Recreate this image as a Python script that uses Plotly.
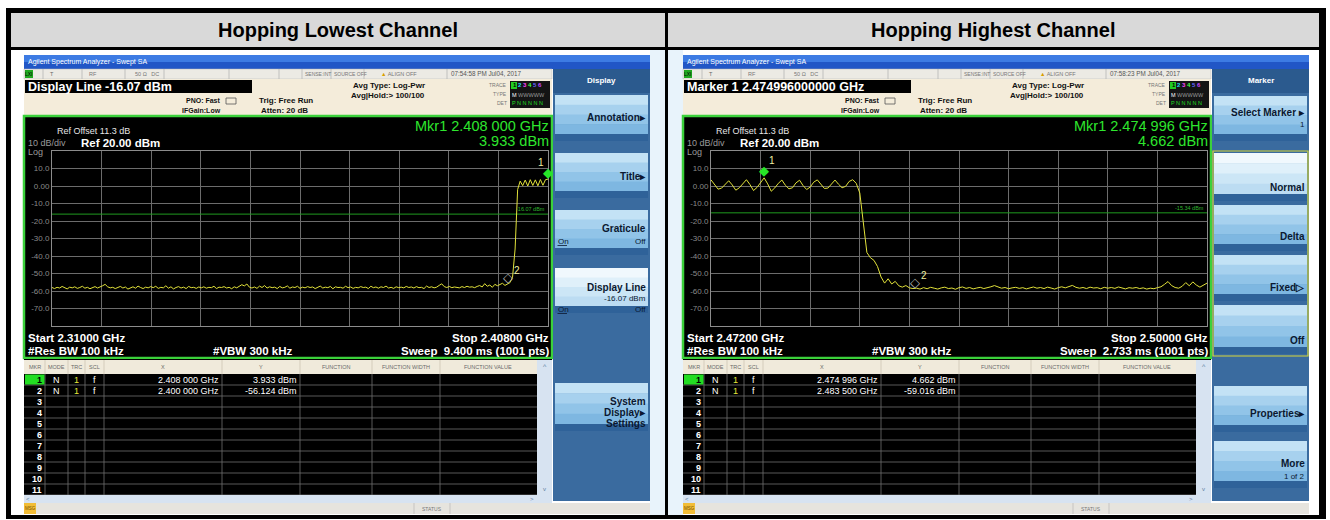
import plotly.graph_objects as go

W, H = 1330, 520
FONT = "Liberation Sans, Arial, Helvetica, sans-serif"

# ---------------- data ----------------
cell_titles = ["Hopping Lowest Channel", "Hopping Highest Channel"]
start_ghz = [2.310, 2.472]
stop_ghz = [2.408, 2.500]

# trace levels (dBm), equally spaced sweep points between start and stop
left_level_dbm = [
    -58.0, -58.6, -57.9, -58.3, -57.4, -58.1, -58.8, -57.8, -58.2, -57.6, -58.5, -58.0, -57.3, -58.4, -57.9, -58.7, -58.1, -57.5, -58.3, -57.8,
    -57.0, -56.2, -57.6, -58.2, -57.9, -58.6, -58.0, -57.4, -58.3, -57.7, -58.9, -58.1, -57.6, -58.4, -57.2, -58.0, -58.6, -57.8, -58.2, -57.5,
    -58.1, -57.3, -58.5, -57.9, -58.2, -57.0, -58.4, -57.6, -58.8, -58.0, -57.5, -58.3, -57.8, -58.6, -57.4, -58.1, -57.9, -58.5, -57.7, -58.2,
    -57.6, -58.4, -57.9, -58.1, -57.3, -58.6, -57.8, -58.0, -57.5, -58.3, -57.9, -58.7, -57.6, -58.2, -57.4, -56.4, -57.1, -56.0, -57.8, -58.3,
    -57.7, -58.5, -57.2, -58.0, -56.9, -58.3, -57.6, -58.1, -57.8, -58.6, -57.4, -58.2, -57.9, -57.1, -58.4, -57.7, -58.0, -57.3, -58.5, -57.8,
    -58.2, -57.5, -58.0, -57.7, -58.6, -57.9, -57.2, -58.3, -57.8, -58.1, -57.4, -58.7, -57.6, -58.0, -57.9, -58.4, -57.3, -58.1, -57.7, -58.5,
    -57.9, -58.2, -57.5, -58.0, -57.8, -58.6, -57.3, -58.1, -57.7, -58.4, -57.6, -58.0, -57.2, -58.3, -57.9, -58.5, -57.6, -58.1, -57.8, -58.2,
    -57.4, -58.0, -57.7, -58.3, -57.5, -58.1, -57.9, -58.6, -57.2, -58.0, -57.6, -58.2, -57.8, -56.8, -55.9, -57.5, -58.0, -57.4, -58.1, -57.7,
    -57.9, -58.2, -57.5, -58.0, -57.3, -57.8, -57.6, -58.1, -57.4, -56.9, -57.7, -55.8, -57.3, -56.6, -57.9, -56.2, -57.0, -56.5, -55.6, -56.8,
    -56.1, -55.2, -52.0, -36.0, -2.0, 2.8, 0.2, 3.4, 0.0, 3.6, 0.3, 3.5, 0.1, 3.7, 0.4, 3.6, 3.933,
]
right_level_dbm = [
    3.5, 1.0, -1.8, -1.2, 1.2, 3.0, 0.6, -2.4, -1.0, 1.6, 3.6, 0.8, -2.6, -0.8, 2.0, 4.662, 1.2, -3.0, -1.1, 1.5,
    3.4, 0.4, -1.6, -1.0, 1.8, 3.3, 0.2, -2.0, -0.6, 2.2, 3.5, 0.8, -1.4, -1.2, 1.4, 3.4, 1.0, -1.0, -0.2, 2.6, 3.6,
    1.5, -4.0, -22.0, -38.0, -41.0, -42.5, -46.0, -52.0, -55.5, -53.0, -56.0, -54.5, -57.0, -57.8, -56.9, -58.2, -58.6, -58.4, -58.9,
    -58.1, -58.7, -57.9, -58.4, -58.9, -58.2, -57.8, -58.6, -58.3, -59.0, -58.1, -57.7, -58.5, -58.0, -58.8, -58.3, -57.9, -58.6, -58.2, -57.6,
    -56.9, -57.8, -58.4, -58.0, -58.7, -58.2, -57.9, -58.5, -58.1, -58.8, -58.3, -57.7, -58.4, -58.0, -58.6, -57.8, -58.3, -58.9, -58.1, -57.6,
    -58.2, -57.5, -56.8, -57.9, -58.4, -58.0, -58.6, -57.8, -58.3, -58.1, -58.7, -57.9, -58.4, -58.0, -58.5, -57.7, -58.2, -58.8, -58.1, -58.4,
    -58.0, -58.6, -58.2, -58.9, -58.4, -58.7, -58.1, -57.6, -56.2, -54.6, -56.9, -58.0, -58.4, -57.3, -55.2, -57.0, -54.8, -56.6, -57.8, -56.4, -55.5,
]
display_line_dbm = [-16.07, -15.34]
mkr1_freq_ghz = [2.408, 2.474996]
mkr1_level_dbm = [3.933, 4.662]
mkr2_freq_ghz = [2.400, 2.4835]
mkr2_level_dbm = [-56.124, -59.016]
ref_level_dbm = 20.0
ref_offset_db = 11.3
db_per_div = 10
y_tick_vals = [10, 0, -10, -20, -30, -40, -50, -60, -70]
y_tick_text = ["10.0", "0.00", "-10.0", "-20.0", "-30.0", "-40.0", "-50.0", "-60.0", "-70.0"]
sweep_time = ["9.400 ms", "2.733 ms"]
sweep_points = 1001
rbw_text = "100 kHz"
vbw_text = "300 kHz"
clock_text = ["07:54:58 PM Jul04, 2017", "07:58:23 PM Jul04, 2017"]
active_function = ["Display Line -16.07 dBm", "Marker 1 2.474996000000 GHz"]
softkey_menu = ["Display", "Marker"]

# ---------------- drawing helpers ----------------
shapes, annots = [], []


def rect(x0, y0, x1, y1, fill, line=None, lw=0):
    shapes.append(dict(type="rect", xref="paper", yref="paper",
                       x0=x0 / W, x1=x1 / W, y0=1 - y1 / H, y1=1 - y0 / H,
                       fillcolor=fill, line=dict(width=lw, color=line if line else fill),
                       layer="below"))


def seg(x0, y0, x1, y1, color, lw=1):
    shapes.append(dict(type="line", xref="paper", yref="paper",
                       x0=x0 / W, x1=x1 / W, y0=1 - y0 / H, y1=1 - y1 / H,
                       line=dict(width=lw, color=color), layer="below"))


def text(x, y, s, size=9, color="#000000", anchor="left", bold=False, valign="middle"):
    annots.append(dict(xref="paper", yref="paper", x=x / W, y=1 - y / H,
                       text=("<b>%s</b>" % s) if bold else s, showarrow=False,
                       xanchor=anchor, yanchor=valign, borderpad=0,
                       font=dict(family=FONT, size=size, color=color)))


def fmt_freq(f):
    s = "%.6f" % f
    return s[:5] + " " + s[5:] + " GHz"


def fmt_lvl(v):
    return "%.3f dBm" % v


def button(x0, y0, x1, y1, selected=False):
    if selected:
        bands = ["#f0f8fd", "#dff0fa", "#cce6f6", "#bcdcf2"]
    else:
        bands = ["#c3e2f5", "#a7d1ee", "#91c4e8", "#7eb7e1"]
    body = (y1 - y0 - 7)
    n = len(bands)
    for k, c in enumerate(bands):
        rect(x0, y0 + body * k / n, x1, y0 + body * (k + 1) / n + 0.6, c)
    rect(x0, y1 - 7, x1, y1, "#2f6299")


# ---------------- page / table frame ----------------
rect(0, 0, W, H, "#ffffff")
rect(650, 50, 665, 515, "#e8f3fb")
rect(668, 50, 683, 515, "#e8f3fb")
rect(11, 13, 1319, 47, "#d9d9d9")
text(338, 30, cell_titles[0], 20, "#000000", "center", True)
text(993, 30, cell_titles[1], 20, "#000000", "center", True)

# ---------------- screens ----------------
softkeys = [
    [  # (y0, y1, lines, selected, onoff)
        (95, 141, [("Annotation▸", 10, True, 118)], False, False),
        (153, 198, [("Title▸", 10, True, 176)], False, False),
        (210, 255, [("Graticule", 10, True, 228)], False, True),
        (268, 313, [("Display Line", 10, True, 287), ("-16.07 dBm", 8, False, 298)], True, True),
        (383, 431, [("System", 10, True, 401), ("Display▸", 10, True, 412), ("Settings", 10, True, 423)], False, False),
    ],
    [
        (96, 141, [("Select Marker ▸", 10, True, 112), ("1", 8, False, 124)], False, False),
        (153, 201, [("Normal", 10, True, 187)], True, False),
        (205, 251, [("Delta", 10, True, 237)], False, False),
        (255, 301, [("Fixed▷", 10, True, 287)], False, False),
        (305, 354, [("Off", 10, True, 340)], False, False),
        (386, 432, [("Properties▸", 10, True, 413)], False, False),
        (441, 488, [("More", 10, True, 463), ("1 of 2", 8, False, 476)], False, False),
    ],
]

offsets = [0, 659]
levels_all = [left_level_dbm, right_level_dbm]
traces = []
layout_axes = {}

for i, ox in enumerate(offsets):
    X = lambda x, ox=ox: x + ox
    # title bar
    rect(X(24), 55, X(650), 62, "#3d7be3")
    rect(X(24), 62, X(650), 69, "#2156c6")
    text(X(27), 62, "Agilent Spectrum Analyzer - Swept SA", 7, "#ffffff")
    # status row
    rect(X(24), 69, X(552), 79, "#eceae4", "#b5b5b5", 0.5)
    rect(X(25), 70, X(33), 78, "#20a820")
    text(X(29), 74, "LXI", 5, "#000000", "center")
    for sx in [43, 82, 125, 164, 229, 279, 302, 331, 364, 447]:
        seg(X(sx), 69, X(sx), 79, "#b0b0b0", 0.7)
    text(X(52), 74, "T", 5.5, "#666666", "center")
    text(X(93), 74, "RF", 5.5, "#777777", "center")
    text(X(134), 74, "50 Ω   DC", 5.5, "#777777", "left")
    text(X(304), 74, "SENSE:INT", 5, "#777777", "left")
    text(X(333), 74, "SOURCE OFF", 5, "#777777", "left")
    text(X(380), 74, "<span style='color:#d8a000'>▲</span> ALIGN OFF", 5.5, "#777777", "left")
    text(X(450), 74, clock_text[i], 6.3, "#555555", "left")
    # info row
    rect(X(24), 79, X(552), 116, "#f4ecda")
    rect(X(25), 80, X(252), 93, "#000000")
    text(X(27), 87, active_function[i], 12.5, "#ffffff", "left", True)
    text(X(222), 101, "PNO: Fast", 7, "#111111", "right", True)
    text(X(222), 110, "IFGain:Low", 7, "#111111", "right", True)
    rect(X(226), 98, X(236), 104, "rgba(0,0,0,0)", "#555555", 0.8)
    text(X(258), 101, "Trig: Free Run", 8, "#111111", "left", True)
    text(X(260), 110, "Atten: 20 dB", 8, "#111111", "left", True)
    text(X(352), 86, "Avg Type: Log-Pwr", 8, "#111111", "left", True)
    text(X(350), 95, "Avg|Hold:&gt; 100/100", 8, "#111111", "left", True)
    text(X(508), 85, "TRACE", 5, "#777777", "right")
    text(X(508), 94, "TYPE", 5, "#777777", "right")
    text(X(508), 103, "DET", 5, "#777777", "right")
    rect(X(510), 81, X(550), 108, "#141414")
    rect(X(511), 82, X(517), 89, "#22cc22")
    text(X(512), 85.5, "1 <span style='color:#22e0ff'>2</span> <span style='color:#ff44ff'>3</span> "
                       "<span style='color:#44ff44'>4</span> <span style='color:#6666ff'>5</span> "
                       "<span style='color:#cc44ff'>6</span>", 6, "#000000", "left", True)
    text(X(511), 94.5, "<span style='color:#ffffff'>M</span> WWWWW", 5.5, "#9a9a9a", "left")
    text(X(511), 103.5, "P N N N N N", 5.5, "#22dd22", "left")

    # display area
    rect(X(24), 116, X(552), 358, "#000000", "#3bd13b", 2.5)
    text(X(56), 131, "Ref Offset %.1f dB" % ref_offset_db, 9, "#e6e6e6")
    text(X(27), 143, "%d dB/div" % db_per_div, 9, "#9a9a9a")
    text(X(80), 143, "Ref %.2f dBm" % ref_level_dbm, 11.5, "#ffffff", "left", True)
    text(X(27), 152, "Log", 9, "#9a9a9a")
    text(X(550), 126, "Mkr1 " + fmt_freq(mkr1_freq_ghz[i]), 14.5, "#2ee62e", "right")
    text(X(550), 141, fmt_lvl(mkr1_level_dbm[i]), 14.5, "#2ee62e", "right")
    text(X(27), 338, "Start %.5f GHz" % start_ghz[i], 11.5, "#ffffff", "left", True)
    text(X(550), 338, "Stop %.5f GHz" % stop_ghz[i], 11.5, "#ffffff", "right", True)
    text(X(27), 351, "#Res BW " + rbw_text, 11.5, "#ffffff", "left", True)
    text(X(212), 351, "#VBW " + vbw_text, 11.5, "#ffffff", "left", True)
    text(X(550), 351, "Sweep  %s (%d pts)" % (sweep_time[i], sweep_points), 11.5, "#ffffff", "right", True)

    # marker table
    rect(X(24), 359, X(552), 495, "#000000")
    rect(X(24), 360, X(537), 374, "#f0eadb")
    cols = [45, 68, 85, 104, 222, 300, 372, 440]
    heads = [("MKR", 35), ("MODE", 56.5), ("TRC", 76.5), ("SCL", 94.5), ("X", 163), ("Y", 261),
             ("FUNCTION", 336), ("FUNCTION WIDTH", 406), ("FUNCTION VALUE", 488)]
    for hname, hx in heads:
        text(X(hx), 367, hname, 5.5, "#6a6a6a", "center")
    for cx in cols:
        seg(X(cx), 360, X(cx), 374, "#c8c0b0", 0.7)
        seg(X(cx), 374, X(cx), 495, "#707070", 0.8)
    row_h = 11
    for r in range(11):
        y0 = 374 + r * row_h
        seg(X(24), y0 + row_h, X(537), y0 + row_h, "#707070", 0.8)
        yc = y0 + row_h / 2
        if r == 0:
            rect(X(25), y0 + 0.5, X(44.5), y0 + row_h - 0.5, "#22dd22")
        text(X(43), yc, str(r + 1), 9, "#000000" if r == 0 else "#ffffff", "right", True)
    mk_f = [mkr1_freq_ghz[i], mkr2_freq_ghz[i]]
    mk_l = [mkr1_level_dbm[i], mkr2_level_dbm[i]]
    for r in range(2):
        yc = 374 + r * row_h + row_h / 2
        text(X(56.5), yc, "N", 9, "#ffffff", "center")
        text(X(76.5), yc, "1", 9, "#e6e63a", "center")
        text(X(94.5), yc, "f", 9, "#ffffff", "center")
        text(X(220), yc, fmt_freq(mk_f[r]), 9, "#ffffff", "right")
        text(X(298), yc, fmt_lvl(mk_l[r]), 9, "#ffffff", "right")
    rect(X(537), 360, X(552), 495, "#d7e3f1")
    text(X(544.5), 366, "^", 7, "#6080a0", "center")
    text(X(544.5), 489, "v", 6, "#6080a0", "center")
    rect(X(24), 495, X(552), 503, "#d7e3f1")
    text(X(28), 499, "&lt;", 6, "#6080a0", "center")
    text(X(532), 499, "&gt;", 6, "#6080a0", "center")

    # bottom status bar
    rect(X(24), 503, X(650), 514, "#e6e4de")
    rect(X(24), 503, X(36), 514, "#f2bd36")
    text(X(30), 508.5, "MSG", 4.5, "#7a5000", "center")
    seg(X(414), 503, X(414), 514, "#b8b8b8", 0.7)
    seg(X(450), 503, X(450), 514, "#b8b8b8", 0.7)
    text(X(432), 508.5, "STATUS", 5, "#777777", "center")

    # softkey panel
    rect(X(553), 69, X(650), 501, "#3a6b9f")
    rect(X(553), 69, X(650), 93, "#2b5a8e")
    text(X(601.5), 80, softkey_menu[i], 8, "#ffffff", "center", True)
    for (y0, y1, lines, sel, onoff) in softkeys[i]:
        button(X(555), y0, X(648), y1, sel)
        for (s, sz, b, yy) in lines:
            text(X(647), yy, s, sz, "#0b1830", "right", b)
        if onoff:
            yy = lines[-1][3] + (13 if len(lines) == 1 else 11)
            text(X(557), yy, "On", 8, "#0b1830", "left")
            seg(X(557.5), yy + 4.5, X(567), yy + 4.5, "#0b1830", 0.8)
            text(X(647), yy, "Off", 8, "#0b1830", "right")
    if i == 1:
        rect(X(554), 151, X(649), 356, "rgba(0,0,0,0)", "#d6d63a", 1.2)

    # ------- spectrum plot (library axes) -------
    xa = "xaxis%d" % (i + 2)
    ya = "yaxis%d" % (i + 2)
    xr = "x%d" % (i + 2)
    yr = "y%d" % (i + 2)
    n = len(levels_all[i])
    freqs = [start_ghz[i] + k * (stop_ghz[i] - start_ghz[i]) / (n - 1) for k in range(n)]
    traces.append(go.Scatter(x=[start_ghz[i], stop_ghz[i]], y=[display_line_dbm[i]] * 2, mode="lines",
                             line=dict(color="#1f9a1f", width=1), xaxis=xr, yaxis=yr, hoverinfo="skip"))
    traces.append(go.Scatter(x=freqs, y=levels_all[i], mode="lines",
                             line=dict(color="#e2e23a", width=1), xaxis=xr, yaxis=yr, hoverinfo="skip"))
    gx = [start_ghz[i] + k * (stop_ghz[i] - start_ghz[i]) / 10 for k in range(11)]
    layout_axes[xa] = dict(domain=[X(52) / W, X(548) / W], range=[start_ghz[i], stop_ghz[i]],
                           anchor=yr, tickvals=gx, showticklabels=False, ticks="",
                           showgrid=True, gridcolor="#6c6c6c", gridwidth=1, zeroline=False,
                           showline=True, mirror=True, linecolor="#8c8c8c", linewidth=1, fixedrange=True)
    layout_axes[ya] = dict(domain=[1 - 326 / H, 1 - 151 / H],
                           range=[ref_level_dbm - 10 * db_per_div, ref_level_dbm],
                           anchor=xr, tickvals=y_tick_vals, ticktext=y_tick_text, ticks="",
                           tickfont=dict(family=FONT, size=8, color="#8a8a8a"),
                           showgrid=True, gridcolor="#6c6c6c", gridwidth=1, zeroline=False,
                           showline=True, mirror=True, linecolor="#8c8c8c", linewidth=1, fixedrange=True)
    # display line label
    annots.append(dict(xref=xr, yref=yr, x=stop_ghz[i], y=display_line_dbm[i], text="%.2f dBm" % display_line_dbm[i],
                       showarrow=False, xanchor="right", yanchor="bottom", yshift=0, xshift=-1,
                       font=dict(family=FONT, size=5.5, color="#2fb52f")))
    # markers
    annots.append(dict(xref=xr, yref=yr, x=mkr1_freq_ghz[i], y=mkr1_level_dbm[i], text="◆", showarrow=False,
                       yshift=7, font=dict(family="DejaVu Sans", size=13, color="#27e627")))
    annots.append(dict(xref=xr, yref=yr, x=mkr1_freq_ghz[i], y=mkr1_level_dbm[i], text="1", showarrow=False,
                       xshift=(-7 if i == 0 else 8), yshift=17,
                       font=dict(family=FONT, size=10, color="#f0f0a0")))
    annots.append(dict(xref=xr, yref=yr, x=mkr2_freq_ghz[i], y=mkr2_level_dbm[i], text="◇", showarrow=False,
                       yshift=7, font=dict(family="DejaVu Sans", size=13, color="#b8b8b8")))
    annots.append(dict(xref=xr, yref=yr, x=mkr2_freq_ghz[i], y=mkr2_level_dbm[i], text="2", showarrow=False,
                       xshift=9, yshift=14, font=dict(family=FONT, size=10, color="#f0f0a0")))

# table borders (black)
rect(6, 8, 1326, 13, "#000000")
rect(6, 47, 1326, 50, "#000000")
rect(6, 8, 11, 519, "#000000")
rect(1319, 8, 1326, 519, "#000000")
rect(665, 8, 668, 519, "#000000")
rect(6, 515, 1326, 519, "#000000")

fig = go.Figure(data=traces)
fig.update_layout(width=W, height=H, margin=dict(l=0, r=0, t=0, b=0),
                  paper_bgcolor="#ffffff", plot_bgcolor="rgba(0,0,0,0)",
                  showlegend=False, hovermode=False,
                  shapes=shapes, annotations=annots, **layout_axes)
fig.write_html("out.html", config={"displayModeBar": False},
               post_script="document.body.style.margin='0px';document.body.style.overflow='hidden';")
